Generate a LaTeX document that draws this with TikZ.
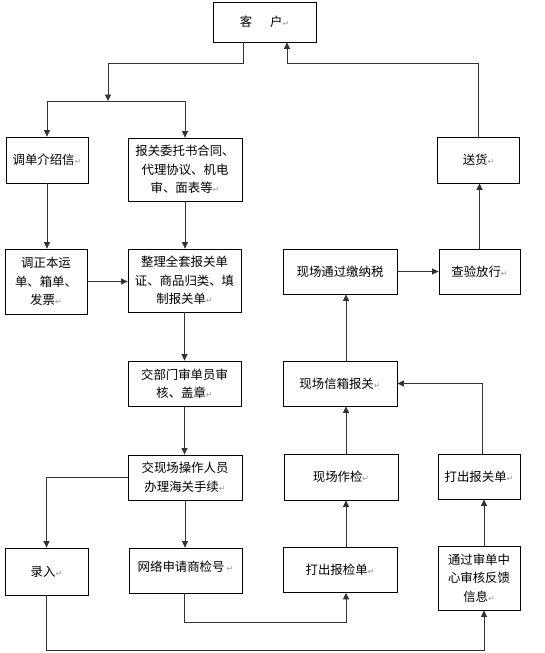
\documentclass[tikz,border=0pt]{standalone}
\usepackage{fontspec}
\setmainfont{Noto Sans CJK SC}
\newfontfamily\symfont{DejaVu Sans}
\usetikzlibrary{arrows.meta}
\newcommand{\rt}{{\symfont\color{black!40}\fontsize{8}{8}\selectfont ↵}}
\begin{document}
\begin{tikzpicture}[x=1pt,y=-1pt,
  box/.style={draw=black, line width=0.8pt, inner sep=0pt, align=center,
    font=\fontsize{12.4}{18.5}\selectfont},
  ln/.style={draw=black!80, line width=0.9pt},
  arr/.style={ln, -{Triangle[length=6.5pt,width=6pt]}}]
\useasboundingbox (0,0) rectangle (545,653);
% boxes
\node[box, minimum width=103pt, minimum height=40pt] (kh) at (264.5,22) {客\hspace{18pt}户\rt};
\node[box, minimum width=82pt, minimum height=46pt] (dd) at (47,160) {调单介绍信\rt};
\node[box, minimum width=114pt, minimum height=63pt] (bg) at (185,169.5) {报关委托书合同、\\代理协议、机电\\审、面表等\rt};
\node[box, minimum width=82pt, minimum height=46pt] (sh) at (478.5,160) {送货\rt};
\node[box, minimum width=82pt, minimum height=65pt] (tz) at (46,281.5) {调正本运\\单、箱单、\\发票\rt};
\node[box, minimum width=113pt, minimum height=63pt] (zl) at (184.5,280.5) {整理全套报关单\\证、商品归类、填\\制报关单\rt};
\node[box, minimum width=114pt, minimum height=45pt] (xt) at (340,271.5) {现场通过缴纳税};
\node[box, minimum width=81pt, minimum height=45pt] (cy) at (479.5,271.5) {查验放行\rt};
\node[box, minimum width=113pt, minimum height=45pt] (jb) at (184.5,383.5) {交部门审单员审\\核、盖章\rt};
\node[box, minimum width=114pt, minimum height=45pt] (xx) at (340,383.5) {现场信箱报关\rt};
\node[box, minimum width=114pt, minimum height=45pt] (jx) at (185,477.5) {交现场操作人员\\办理海关手续\rt};
\node[box, minimum width=114pt, minimum height=46pt] (zj) at (341,477) {现场作检\rt};
\node[box, minimum width=82pt, minimum height=45pt] (dc) at (479,476.5) {打出报关单\rt};
\node[box, minimum width=83pt, minimum height=47pt] (lr) at (46.5,571.5) {录入\rt};
\node[box, minimum width=113pt, minimum height=45pt] (wl) at (185.5,570.5) {\raisebox{8pt}{网络申请商检号\,\rt}};
\node[box, minimum width=114pt, minimum height=45pt] (db) at (340,570) {打出报检单\rt};
\node[box, minimum width=82pt, minimum height=64pt] (tg) at (479,578) {通过审单中\\心审核反馈\\信息\rt};
% helper coordinates
\coordinate (b1) at (243,63);
\coordinate (j1) at (108,101);
\coordinate (b2) at (287,63);
\coordinate (c3) at (346,0);
\coordinate (b4) at (184,622);
\coordinate (b5) at (48,650);
\coordinate (c4) at (484,0);
\coordinate (c5) at (482,0);
% connectors
\draw[arr] (kh.south -| b1) -- (b1) -| (j1);
\draw[ln] (dd.north |- j1) -- (bg.north |- j1);
\draw[arr] (dd.north |- j1) -- (dd.north);
\draw[arr] (bg.north |- j1) -- (bg.north);
\draw[arr] (sh.north) |- (b2) -- (kh.south -| b2);
\draw[arr] (dd.south) -- (dd.south |- tz.north);
\draw[arr] (bg.south) -- (bg.south |- zl.north);
\draw[arr] (tz.east) -- (tz.east -| zl.west);
\draw[arr] (zl.south) -- (zl.south |- jb.north);
\draw[arr] (jb.south) -- (jb.south |- jx.north);
\draw[arr] (jx.west) -| (lr.north);
\draw[arr] (jx.south) -- (jx.south |- wl.north);
\draw[arr] (wl.south -| b4) -- (b4) -| (db.south -| c3);
\draw[arr] (db.north -| c3) -- (zj.south -| c3);
\draw[arr] (zj.north -| c3) -- (xx.south -| c3);
\draw[arr] (xx.north -| c3) -- (xt.south -| c3);
\draw[arr] (xt.east) -- (xt.east -| cy.west);
\draw[arr] (cy.north) -- (cy.north |- sh.south);
\draw[arr] (lr.south) -- (lr.south |- b5) -| (tg.south -| c4);
\draw[arr] (tg.north -| c4) -- (dc.south -| c4);
\draw[arr] (dc.north -| c5) |- (xx.east);
\end{tikzpicture}
\end{document}
